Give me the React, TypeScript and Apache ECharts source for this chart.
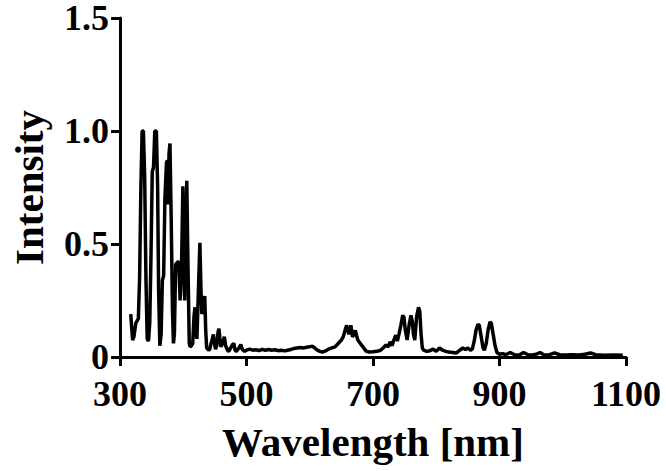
import React, { useEffect, useRef } from "react";
import * as echarts from "echarts";

// Values
const wavelength = [
  317, 318.5, 320, 322, 325, 327, 329, 331, 333, 335, 337, 339, 341, 343, 345, 347, 349, 351, 353, 355,
  357.5, 359.5, 361, 363, 365, 367, 369, 371, 373.5, 375, 376, 377.5, 379, 381, 383, 384.5, 386, 388, 391, 393,
  395, 397, 399.4, 401, 402.3, 404, 405.6, 407.5, 409.5, 411, 413, 415, 417, 418.5, 420, 421.6, 424, 426.3, 428, 429.4,
  431.5, 434, 435.5, 437, 440, 442, 444, 446, 447.6, 449.5, 451, 453, 455, 456.4, 458, 459.5, 462, 465, 467, 470,
  472, 475, 478, 480, 482, 484, 488, 491, 493, 497, 500, 505, 510, 515, 520, 525, 530, 535, 540, 545,
  550, 555, 560, 565, 570, 575, 580, 585, 590, 595, 600, 604, 608, 612, 616, 620, 625, 630, 635, 640,
  645, 650, 653, 656, 658.4, 660, 662, 665, 667.5, 670, 672, 674, 676, 680, 684, 689, 694, 700, 706, 712,
  716, 720.5, 724, 727, 730, 733, 736, 738.5, 741, 744, 747, 749, 751, 754, 757, 760, 762, 764, 766, 769,
  772, 774, 776, 778, 780, 785, 790, 795, 800, 805, 810, 815, 820, 826, 832, 837, 842, 846, 850, 854,
  857, 860, 863, 866, 868, 871, 874, 876, 879, 882, 885, 887, 890, 893, 896, 900, 905, 910, 917, 924,
  931, 938, 945, 952, 958, 964, 970, 978, 987, 995, 1005, 1015, 1025, 1035, 1044, 1052, 1065, 1080, 1095,
];
const intensity = [
  0.19, 0.13, 0.075, 0.09, 0.15, 0.16, 0.17, 0.35, 0.75, 1.0, 1.0, 0.8, 0.35, 0.08, 0.07, 0.15, 0.45, 0.82, 0.84, 1.0,
  1.0, 0.75, 0.3, 0.05, 0.1, 0.34, 0.36, 0.7, 0.86, 0.87, 0.675, 0.9, 0.945, 0.6, 0.2, 0.06, 0.1, 0.41, 0.42, 0.42,
  0.25, 0.35, 0.755, 0.5, 0.25, 0.5, 0.78, 0.4, 0.06, 0.045, 0.05, 0.06, 0.18, 0.22, 0.12, 0.08, 0.3, 0.505, 0.3, 0.19,
  0.22, 0.27, 0.12, 0.04, 0.03, 0.035, 0.06, 0.08, 0.1, 0.06, 0.035, 0.05, 0.11, 0.125, 0.08, 0.045, 0.06, 0.09, 0.05, 0.03,
  0.025, 0.04, 0.055, 0.06, 0.03, 0.025, 0.04, 0.055, 0.035, 0.025, 0.03, 0.035, 0.03, 0.032, 0.028, 0.034, 0.03, 0.033, 0.03, 0.032,
  0.028, 0.03, 0.027, 0.03, 0.033, 0.038, 0.04, 0.042, 0.04, 0.043, 0.045, 0.048, 0.04, 0.03, 0.025, 0.022, 0.027, 0.035, 0.04, 0.045,
  0.06, 0.075, 0.09, 0.12, 0.14, 0.12, 0.1, 0.14, 0.09, 0.1, 0.118, 0.095, 0.075, 0.06, 0.045, 0.026, 0.022, 0.023, 0.025, 0.03,
  0.04, 0.053, 0.045, 0.067, 0.05, 0.075, 0.097, 0.07, 0.1, 0.14, 0.184, 0.175, 0.12, 0.075, 0.14, 0.184, 0.16, 0.1, 0.075, 0.18,
  0.22, 0.2, 0.1, 0.04, 0.03, 0.025, 0.028, 0.035, 0.025, 0.04, 0.03, 0.025, 0.022, 0.02, 0.018, 0.03, 0.04, 0.033, 0.04, 0.03,
  0.035, 0.07, 0.12, 0.145, 0.14, 0.09, 0.04, 0.03, 0.06, 0.12, 0.155, 0.15, 0.1, 0.05, 0.02, 0.012, 0.015, 0.01, 0.02, 0.01,
  0.009, 0.02, 0.01, 0.009, 0.012, 0.02, 0.01, 0.009, 0.018, 0.01, 0.009, 0.01, 0.009, 0.012, 0.018, 0.01, 0.008, 0.009, 0.008,
];
const xTicks = [300, 500, 700, 900, 1100];
const yTicks = [0, 0.5, 1.0, 1.5];
const yTickLabels = ["0", "0.5", "1.0", "1.5"];

const FONT = "'Liberation Serif', 'Times New Roman', serif";

export default function App() {
  const ref = useRef<HTMLDivElement>(null);
  useEffect(() => {
    const chart = echarts.init(ref.current!, null, { renderer: "svg" });
    const labelStyle = { fontFamily: FONT, fontWeight: "bold", fontSize: 36, color: "#000" };
    const nameStyle = { fontFamily: FONT, fontWeight: "bold", fontSize: 41, color: "#000" };
    chart.setOption({
      animation: false,
      backgroundColor: "#ffffff",
      grid: { left: 111, right: 40, top: 15, bottom: 114, containLabel: false },
      xAxis: {
        type: "value",
        min: xTicks[0],
        max: xTicks[xTicks.length - 1],
        interval: xTicks[1] - xTicks[0],
        name: "Wavelength [nm]",
        nameLocation: "middle",
        nameGap: 64,
        nameTextStyle: nameStyle,
        axisLine: { show: true, onZero: false, lineStyle: { color: "#000", width: 3 } },
        axisTick: { show: true, length: 9, lineStyle: { color: "#000", width: 3 } },
        axisLabel: { ...labelStyle, margin: 19, formatter: (v: number) => String(v) },
        splitLine: { show: false },
      },
      yAxis: {
        type: "value",
        min: yTicks[0],
        max: yTicks[yTicks.length - 1],
        interval: yTicks[1] - yTicks[0],
        name: "Intensity",
        nameLocation: "middle",
        nameGap: 71,
        nameTextStyle: nameStyle,
        axisLine: { show: true, onZero: false, lineStyle: { color: "#000", width: 3 } },
        axisTick: { show: true, length: 9, lineStyle: { color: "#000", width: 3 } },
        axisLabel: {
          ...labelStyle,
          lineHeight: 28,
          margin: 11,
          formatter: (v: number) => {
            const i = yTicks.findIndex((t) => Math.abs(t - v) < 1e-9);
            return i >= 0 ? yTickLabels[i] : String(v);
          },
        },
        splitLine: { show: false },
      },
      series: [
        {
          type: "line",
          data: wavelength.map((w, i) => [w, intensity[i]]),
          showSymbol: false,
          symbol: "none",
          lineStyle: { color: "#000", width: 3.5 },
          itemStyle: { color: "#000" },
          z: 1,
        },
      ],
    });
    return () => chart.dispose();
  }, []);
  return (
    <div
      ref={ref}
      style={{ position: "absolute", left: 0, top: 0, width: 666, height: 471, background: "#fff" }}
    />
  );
}
